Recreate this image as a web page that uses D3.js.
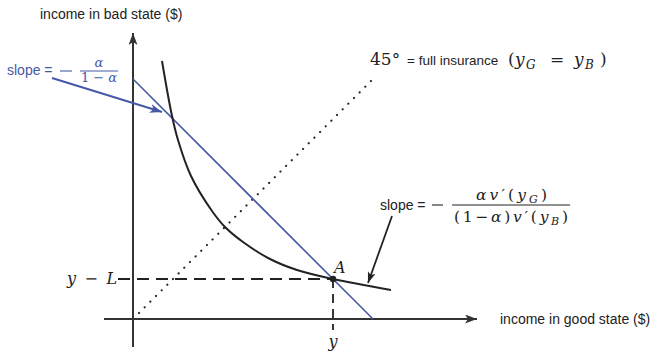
<!DOCTYPE html>
<html>
<head>
<meta charset="utf-8">
<script src="https://cdn.jsdelivr.net/npm/d3@7"></script>
<style>
  body { margin: 0; background: #fff; }
  text { font-family: "Liberation Sans", Arial, sans-serif; }
  .math { font-family: "DejaVu Serif", "Liberation Serif", serif; }
</style>
</head>
<body>
<div id="chart"></div>
<script>
// income in good state (x) / bad state (y), arbitrary units
const budgetLine = [[0, 12], [12, 0]];
const curveGood = [1.45, 1.94, 2.25, 2.9, 3.95, 4.6, 5.5, 6.85, 8.2, 10, 12.9];
const curveBad = [12.9, 10.2, 8.95, 7.15, 5.4, 4.6, 3.85, 3.0, 2.45, 2.0, 1.45];
const fullInsurance = [[0.3, 0.3], [12, 12]];
const pointA = [10, 2];
const axisExtentX = [-1.45, 17.2];
const axisExtentY = [-1.4, 14.3];

const W = 660, H = 352;
const BLUE = "#4659a8";
const INK = "#222";

const svg = d3.select("#chart").append("svg")
  .attr("width", W).attr("height", H)
  .attr("viewBox", `0 0 ${W} ${H}`);

const x = d3.scaleLinear().domain([0, 12]).range([133, 373]);
const y = d3.scaleLinear().domain([0, 12]).range([319, 79]);

const defs = svg.append("defs");
function marker(id, color, w, h) {
  defs.append("marker")
    .attr("id", id)
    .attr("viewBox", `0 0 ${w} ${h}`)
    .attr("refX", w).attr("refY", h / 2)
    .attr("markerUnits", "userSpaceOnUse")
    .attr("markerWidth", w).attr("markerHeight", h)
    .attr("orient", "auto")
    .append("path")
    .attr("d", `M0,0L${w},${h / 2}L0,${h}L${w * 0.25},${h / 2}Z`)
    .attr("fill", color);
}
marker("axisHead", "#333", 12, 9);
marker("blueHead", BLUE, 12, 9);
marker("blackHead", INK, 11, 8);

// axes
svg.append("line")
  .attr("x1", x(axisExtentX[0])).attr("y1", y(0))
  .attr("x2", x(axisExtentX[1])).attr("y2", y(0))
  .attr("stroke", "#333").attr("stroke-width", 2)
  .attr("marker-end", "url(#axisHead)");
svg.append("line")
  .attr("x1", x(0)).attr("y1", y(axisExtentY[0]))
  .attr("x2", x(0)).attr("y2", y(axisExtentY[1]))
  .attr("stroke", "#333").attr("stroke-width", 2)
  .attr("marker-end", "url(#axisHead)");

// 45 degree line
svg.append("line")
  .attr("x1", x(fullInsurance[0][0])).attr("y1", y(fullInsurance[0][1]))
  .attr("x2", x(fullInsurance[1][0])).attr("y2", y(fullInsurance[1][1]))
  .attr("stroke", INK).attr("stroke-width", 2.1)
  .attr("stroke-linecap", "round")
  .attr("stroke-dasharray", "0.1,7.9");

// dashed guides to A
svg.append("line")
  .attr("x1", x(-0.75)).attr("y1", y(pointA[1]))
  .attr("x2", x(pointA[0])).attr("y2", y(pointA[1]))
  .attr("stroke", INK).attr("stroke-width", 1.8)
  .attr("stroke-dasharray", "12,7");
svg.append("line")
  .attr("x1", x(pointA[0])).attr("y1", y(pointA[1]))
  .attr("x2", x(pointA[0])).attr("y2", y(-0.55))
  .attr("stroke", INK).attr("stroke-width", 1.8)
  .attr("stroke-dasharray", "9,6");

// budget line
svg.append("path")
  .attr("d", d3.line().x((d) => x(d[0])).y((d) => y(d[1]))(budgetLine))
  .attr("fill", "none").attr("stroke", BLUE).attr("stroke-width", 1.6);

// indifference curve
const curvePts = curveGood.map((g, i) => [g, curveBad[i]]);
svg.append("path")
  .attr("d", d3.line().x((d) => x(d[0])).y((d) => y(d[1])).curve(d3.curveCatmullRom.alpha(0.5))(curvePts))
  .attr("fill", "none").attr("stroke", INK).attr("stroke-width", 2);

svg.append("circle")
  .attr("cx", x(pointA[0])).attr("cy", y(pointA[1]))
  .attr("r", 3.2).attr("fill", INK);

// axis titles
svg.append("text").attr("x", 40).attr("y", 19)
  .attr("font-size", 14).attr("fill", INK)
  .text("income in bad state ($)");
svg.append("text").attr("x", 500).attr("y", 324)
  .attr("font-size", 14).attr("fill", INK)
  .text("income in good state ($)");

// y - L and y labels
const yl = svg.append("text").attr("class", "math")
  .attr("x", 67).attr("y", 284)
  .attr("font-size", 16).attr("fill", INK)
  .attr("textLength", 50).attr("lengthAdjust", "spacing");
yl.append("tspan").attr("font-style", "italic").text("y");
yl.append("tspan").text(" \u2212 ");
yl.append("tspan").attr("font-style", "italic").text("L");

svg.append("text").attr("class", "math")
  .attr("x", x(pointA[0])).attr("y", 347).attr("text-anchor", "middle")
  .attr("font-size", 16).attr("font-style", "italic").attr("fill", INK)
  .text("y");

svg.append("text").attr("class", "math")
  .attr("x", x(pointA[0]) + 1).attr("y", 273)
  .attr("font-size", 16).attr("font-style", "italic").attr("fill", INK)
  .text("A");

// 45 degree label
function mathText(px, py, str, size, italic) {
  return svg.append("text").attr("class", "math")
    .attr("x", px).attr("y", py)
    .attr("font-size", size)
    .attr("font-style", italic ? "italic" : "normal")
    .attr("fill", INK).text(str);
}
mathText(370, 65, "45\u00B0", 17, false);
svg.append("text").attr("x", 407).attr("y", 65)
  .attr("font-size", 13.5).attr("fill", INK).text("= full insurance");
mathText(508, 65, "(", 17, false);
mathText(515, 65, "y", 17, true);
mathText(526, 69, "G", 12, true);
mathText(550, 65, "=", 17, false);
mathText(574, 65, "y", 17, true);
mathText(585, 69, "B", 12, true);
mathText(600, 65, ")", 17, false);

// blue slope annotation
svg.append("text").attr("x", 7).attr("y", 75)
  .attr("font-size", 14).attr("fill", BLUE).text("slope =");
svg.append("line").attr("x1", 60).attr("x2", 72).attr("y1", 71).attr("y2", 71)
  .attr("stroke", BLUE).attr("stroke-width", 1.1);
svg.append("line").attr("x1", 80).attr("x2", 118).attr("y1", 71).attr("y2", 71)
  .attr("stroke", BLUE).attr("stroke-width", 1);
svg.append("text").attr("class", "math").attr("x", 99).attr("y", 67)
  .attr("text-anchor", "middle").attr("font-size", 13).attr("font-style", "italic")
  .attr("fill", BLUE).text("\u03B1");
const den1 = svg.append("text").attr("class", "math").attr("x", 81).attr("y", 82)
  .attr("font-size", 13).attr("fill", BLUE)
  .attr("textLength", 36).attr("lengthAdjust", "spacing");
den1.append("tspan").text("1\u2212");
den1.append("tspan").attr("font-style", "italic").text("\u03B1");
svg.append("line").attr("x1", 52).attr("y1", 78).attr("x2", 162).attr("y2", 112)
  .attr("stroke", BLUE).attr("stroke-width", 2)
  .attr("marker-end", "url(#blueHead)");

// black slope annotation
svg.append("text").attr("x", 380).attr("y", 210)
  .attr("font-size", 14).attr("fill", INK).text("slope =");
svg.append("line").attr("x1", 432).attr("x2", 443).attr("y1", 205).attr("y2", 205)
  .attr("stroke", INK).attr("stroke-width", 1.1);
svg.append("line").attr("x1", 452).attr("x2", 570).attr("y1", 205).attr("y2", 205)
  .attr("stroke", INK).attr("stroke-width", 1);
const num2 = svg.append("text").attr("class", "math").attr("x", 476).attr("y", 200)
  .attr("font-size", 15.5).attr("fill", INK)
  .attr("textLength", 71).attr("lengthAdjust", "spacing");
num2.append("tspan").attr("font-style", "italic").text("\u03B1v");
num2.append("tspan").text("\u2032(");
num2.append("tspan").attr("font-style", "italic").text("y");
num2.append("tspan").attr("font-style", "italic").attr("font-size", 11).attr("dy", 3).text("G");
num2.append("tspan").attr("dy", -3).text(")");
const den2 = svg.append("text").attr("class", "math").attr("x", 454).attr("y", 222)
  .attr("font-size", 15.5).attr("fill", INK)
  .attr("textLength", 114).attr("lengthAdjust", "spacing");
den2.append("tspan").text("(1\u2212");
den2.append("tspan").attr("font-style", "italic").text("\u03B1");
den2.append("tspan").text(")");
den2.append("tspan").attr("font-style", "italic").text("v");
den2.append("tspan").text("\u2032(");
den2.append("tspan").attr("font-style", "italic").text("y");
den2.append("tspan").attr("font-style", "italic").attr("font-size", 11).attr("dy", 3).text("B");
den2.append("tspan").attr("dy", -3).text(")");
svg.append("line").attr("x1", 392).attr("y1", 216).attr("x2", 368).attr("y2", 283)
  .attr("stroke", INK).attr("stroke-width", 1.8)
  .attr("marker-end", "url(#blackHead)");
</script>
</body>
</html>
